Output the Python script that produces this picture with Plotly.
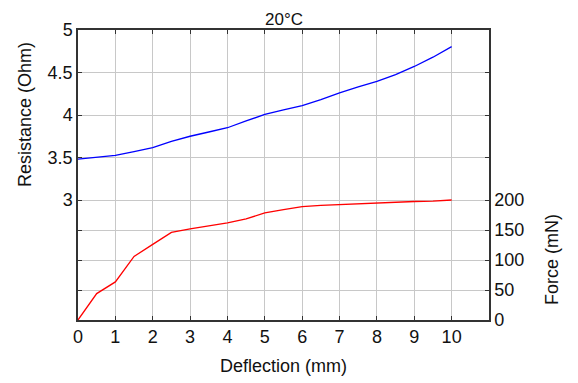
import plotly.graph_objects as go

deflection = [0, 0.5, 1, 1.5, 2, 2.5, 3, 3.5, 4, 4.5, 5, 5.5, 6, 6.5, 7, 7.5, 8, 8.5, 9, 9.5, 10]
resistance = [3.48, 3.50, 3.526, 3.568, 3.615, 3.69, 3.75, 3.80, 3.85, 3.93, 4.006, 4.06,
              4.11, 4.18, 4.26, 4.33, 4.395, 4.475, 4.571, 4.68, 4.805]
force = [0, 44, 63.5, 106, 126, 146, 152, 157, 162, 168.5, 178.5, 184,
         189, 191, 192.5, 194, 194.7, 196, 197.5, 198, 200]

x_ticks = [0, 1, 2, 3, 4, 5, 6, 7, 8, 9, 10]
r_ticks = [3, 3.5, 4, 4.5, 5]
r_ticktext = ["3", "3.5", "4", "4.5", "5"]
f_ticks = [0, 50, 100, 150, 200]

FONT = "Liberation Sans, Arial, sans-serif"
AX = "#333333"
GRID = "#c8c8c8"

fig = go.Figure()
fig.add_trace(go.Scatter(x=deflection, y=resistance, mode="lines",
                         line=dict(color="#0000ff", width=1.3), yaxis="y", showlegend=False))
fig.add_trace(go.Scatter(x=deflection, y=force, mode="lines",
                         line=dict(color="#ff0000", width=1.3), yaxis="y2", showlegend=False))

# page body adds an 8px offset; figure sized to fit inside the window
fig.update_layout(
    width=570, height=375,
    margin=dict(l=70, r=89, t=20, b=63),
    paper_bgcolor="white", plot_bgcolor="white",
    font=dict(family=FONT, size=18, color="#111111"),
    xaxis=dict(range=[0, 11], tickvals=x_ticks, showgrid=True, gridcolor=GRID, gridwidth=1,
               zeroline=False, showline=True, linecolor=AX, linewidth=1.5, mirror="ticks",
               ticks="inside", ticklen=4, tickcolor=AX, ticklabelstandoff=0),
    yaxis=dict(range=[5 - (320 - 28.3) / 85.5, 5], tickvals=r_ticks, ticktext=r_ticktext,
               showgrid=True, gridcolor=GRID, zeroline=False, showline=True, linecolor=AX,
               linewidth=1.5, mirror="ticks", ticks="inside", ticklen=4, tickcolor=AX,
               ticklabelstandoff=0),
    yaxis2=dict(range=[0, 200 + (199.3 - 28.3) / 120.7 * 200], tickvals=f_ticks, overlaying="y",
                side="right", showgrid=True, gridcolor=GRID, zeroline=False, showline=True,
                linecolor=AX, linewidth=1.5, mirror="ticks", ticks="inside", ticklen=4,
                tickcolor=AX, ticklabelstandoff=0),
    annotations=[
        dict(text="20°C", xref="paper", yref="paper", x=0.5, y=1, yshift=11, showarrow=False,
             font=dict(size=17), xanchor="center", yanchor="middle", borderpad=0),
        dict(text="Deflection (mm)", xref="paper", yref="paper", x=0.5, y=0, yshift=-46,
             showarrow=False, font=dict(size=18), xanchor="center", yanchor="middle"),
        dict(text="Resistance (Ohm)", xref="paper", yref="y", x=0, y=4.0, xshift=-53,
             showarrow=False, textangle=-90, font=dict(size=18), xanchor="center", yanchor="middle"),
        dict(text="Force (mN)", xref="paper", yref="y2", x=1, y=100, xshift=63,
             showarrow=False, textangle=-90, font=dict(size=18), xanchor="center", yanchor="middle"),
    ],
)

fig.write_html("out.html")
